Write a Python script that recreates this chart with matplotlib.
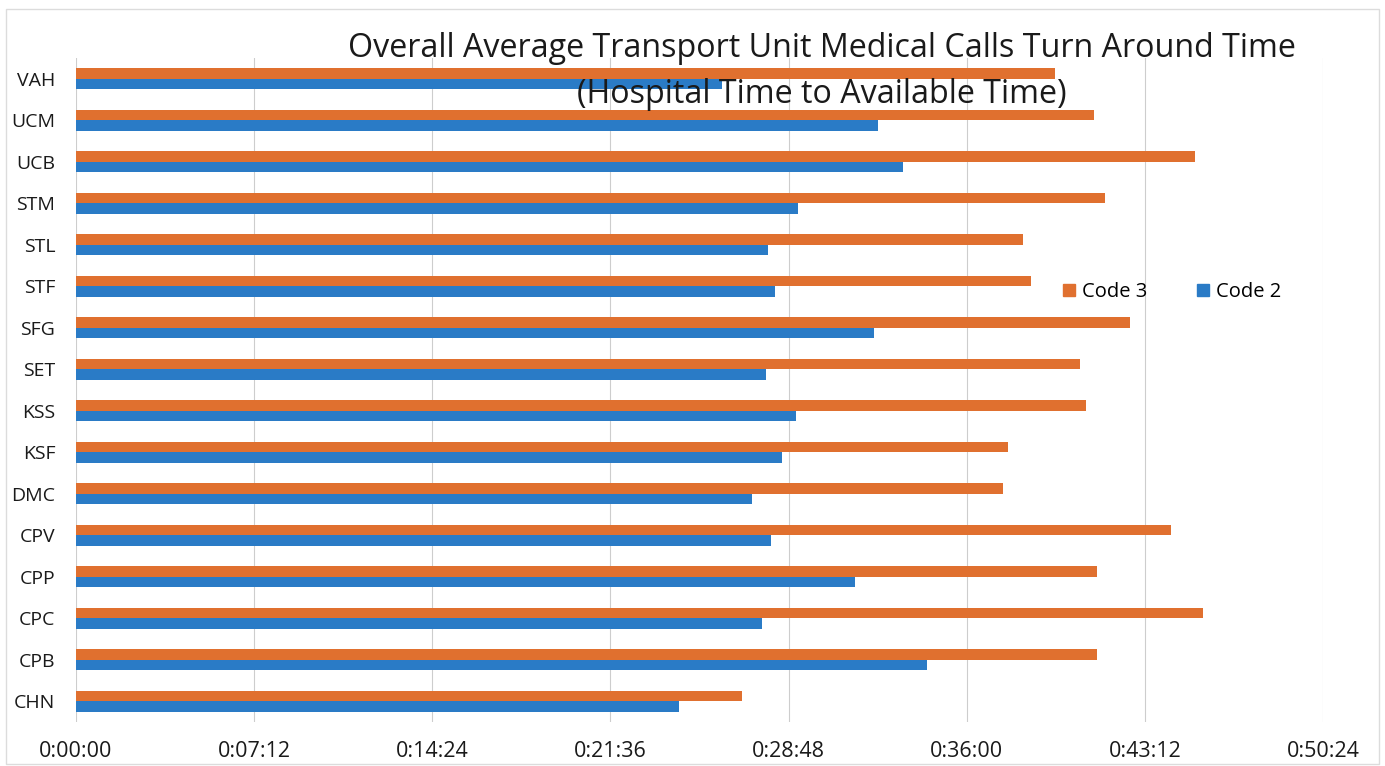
import matplotlib.pyplot as plt
from matplotlib.lines import Line2D
from matplotlib.patches import Rectangle
from matplotlib.ticker import FuncFormatter, MultipleLocator

plt.rcParams['font.family'] = ['Open Sans', 'DejaVu Sans']

# average turn around time in seconds, listed bottom to top
units = ['CHN', 'CPB', 'CPC', 'CPP', 'CPV', 'DMC', 'KSF', 'KSS',
         'SET', 'SFG', 'STF', 'STL', 'STM', 'UCB', 'UCM', 'VAH']
code3 = [1615, 2476, 2733, 2476, 2655, 2248, 2260, 2449,
         2435, 2556, 2316, 2296, 2495, 2713, 2468, 2374]
code2 = [1462, 2064, 1663, 1889, 1685, 1639, 1712, 1746,
         1673, 1935, 1695, 1678, 1751, 2005, 1945, 1566]

orange = '#E0702F'
blue = '#2A7BC6'


def hms(x, pos):
    x = int(round(x))
    return f'{x // 3600}:{(x % 3600) // 60:02d}:{x % 60:02d}'


fig = plt.figure(figsize=(13.85, 7.66), dpi=100)
fig.patches.append(Rectangle((0.004, 0.003), 0.992, 0.985, transform=fig.transFigure,
                             fill=False, edgecolor='#dcdcdc', linewidth=1))
ax = fig.add_axes([0.0549, 0.0574, 0.9004, 0.8669])

ypos = list(range(len(units)))
h = 0.25
ax.barh([y + h / 2 for y in ypos], code3, height=h, color=orange, label='Code 3', zorder=2)
ax.barh([y - h / 2 for y in ypos], code2, height=h, color=blue, label='Code 2', zorder=2)

ax.set_xlim(0, 3024)
ax.set_ylim(-0.5, len(units) - 0.5)
ax.xaxis.set_major_locator(MultipleLocator(432))
ax.xaxis.set_major_formatter(FuncFormatter(hms))
ax.set_yticks(ypos)
ax.set_yticklabels(units)
ax.tick_params(axis='both', length=0, colors='#1a1a1a')
ax.tick_params(axis='x', pad=14, labelsize=15.5)
ax.tick_params(axis='y', pad=15, labelsize=14)
ax.grid(axis='x', color='#cdcdcd', linewidth=0.8, zorder=0)
for s in ax.spines.values():
    s.set_visible(False)

fig.text(0.5935, 0.937, 'Overall Average Transport Unit Medical Calls Turn Around Time',
         ha='center', va='center', fontsize=23.2, color='#1a1a1a', zorder=5)
fig.text(0.5935, 0.877, '(Hospital Time to Available Time)',
         ha='center', va='center', fontsize=23.2, color='#1a1a1a', zorder=5)

handles = [Line2D([], [], marker='s', linestyle='none', markersize=9, color=orange),
           Line2D([], [], marker='s', linestyle='none', markersize=9, color=blue)]
fig.legend(handles, ['Code 3', 'Code 2'], loc='center', bbox_to_anchor=(0.846, 0.619),
           ncol=2, frameon=False, fontsize=14.5, handlelength=0.7, handletextpad=0.3,
           columnspacing=2.4)

fig.savefig('out.png', dpi=100)
